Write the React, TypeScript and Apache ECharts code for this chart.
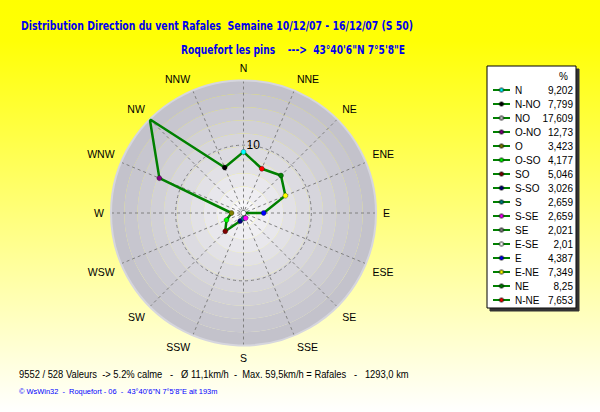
import React, { useEffect, useRef } from "react";
import * as echarts from "echarts";

// ---- data ----
const legendNames = ["N", "N-NO", "NO", "O-NO", "O", "O-SO", "SO", "S-SO", "S", "S-SE", "SE", "E-SE", "E", "E-NE", "NE", "N-NE"];
const directionLabels = ["N", "NNW", "NW", "WNW", "W", "WSW", "SW", "SSW", "S", "SSE", "SE", "ESE", "E", "ENE", "NE", "NNE"];
const percents = [9.202, 7.799, 17.609, 12.73, 3.423, 4.177, 5.046, 3.026, 2.659, 2.659, 2.021, 2.01, 4.387, 7.349, 8.25, 7.653];
const pointColors = ["#00ffff", "#000000", "#c0c0c0", "#800080", "#808000", "#00ff00", "#800000", "#000080", "#008080", "#ff00ff", "#808080", "#ffffff", "#0000ff", "#ffff00", "#008000", "#ff0000"];
const ringValue = 10;
const legendHeader = "%";

const titleText = "Distribution Direction du vent Rafales  Semaine 10/12/07 - 16/12/07 (S 50)";
const subtitleText = "Roquefort les pins    --->  43°40'6\"N 7°5'8\"E";
const statsText = "9552 / 528 Valeurs  -> 5.2% calme   -   Ø 11,1km/h  -  Max. 59,5km/h = Rafales   -   1293,0 km";
const footerText = "© WsWin32  -  Roquefort - 06  -  43°40'6\"N 7°5'8\"E alt 193m";

// ---- styles ----
const FONT = "'Liberation Sans', Arial, sans-serif";
const NARROW = "'Liberation Sans Narrow', 'Arial Narrow', 'DejaVu Sans Condensed', sans-serif";
const bandColors = ["#f7f6f9", "#efeef2", "#e8e7ec", "#e2e1e6", "#dcdbe1", "#d6d5dc", "#d1d0d7", "#cccbd3", "#c7c6cf", "#c3c2cb"];
const CENTER: [number, number] = [243.5, 213];
const RADIUS = 132.5;

const fmt = (v: number) => String(v).replace(".", ",");

export default function App() {
  const ref = useRef<HTMLDivElement>(null);
  useEffect(() => {
    if (!ref.current) return;
    const chart = echarts.init(ref.current, null, { renderer: "svg" });
    const step = 360 / directionLabels.length;
    const rMin = Math.min(...percents);
    const rMax = Math.max(...percents);

    const polygon = percents.map((v, i) => [v, i * step]);
    polygon.push([percents[0], 360]);

    const pointSeries = legendNames.map((name, i) => ({
      type: "line",
      name,
      coordinateSystem: "polar",
      polarIndex: 1,
      data: [[percents[i], i * step]],
      symbol: "circle",
      symbolSize: 5,
      showSymbol: true,
      itemStyle: { color: pointColors[i], borderColor: "rgba(0,0,0,0.4)", borderWidth: 0.8 },
      lineStyle: { color: "#008000", width: 2 },
      z: 5,
      silent: true,
    }));

    chart.setOption({
      animation: false,
      backgroundColor: {
        type: "linear", x: 0, y: 0, x2: 0, y2: 1,
        colorStops: [
          { offset: 0, color: "#ffff00" },
          { offset: 0.1, color: "#ffff06" },
          { offset: 1, color: "#ffffff" },
        ],
      },
      textStyle: { fontFamily: FONT },
      polar: [
        { center: CENTER, radius: RADIUS },
        { center: CENTER, radius: RADIUS },
      ],
      angleAxis: [
        { polarIndex: 0, type: "value", min: 0, max: 360, show: false },
        {
          polarIndex: 1, type: "value", min: 0, max: 360, interval: step,
          startAngle: 90, clockwise: false, z: 1,
          axisLine: { show: true, lineStyle: { color: "#d6d6de", width: 2 } },
          axisTick: { show: false },
          axisLabel: {
            margin: 7, fontSize: 10.5, color: "#000", fontFamily: FONT,
            formatter: (v: number) => {
              const i = Math.round(v / step);
              return i < directionLabels.length ? directionLabels[i] : "";
            },
          },
          splitLine: { show: true, lineStyle: { color: "#808080", width: 1, type: [3, 3] } },
        },
      ],
      radiusAxis: [
        {
          polarIndex: 0, type: "value", min: 0, max: 10, interval: 1, z: 0,
          axisLine: { show: false }, axisTick: { show: false }, axisLabel: { show: false },
          splitLine: { show: false },
          splitArea: { show: true, areaStyle: { color: bandColors } },
        },
        {
          polarIndex: 1, type: "value", min: rMin, max: rMax, interval: ringValue - rMin, z: 1,
          axisLine: { show: false }, axisTick: { show: false },
          axisLabel: {
            margin: -3, align: "left", verticalAlign: "middle", padding: [0, 0, 2, 0], fontSize: 12, color: "#000", fontFamily: FONT,
            formatter: (v: number) => (Math.abs(v - ringValue) < 1e-6 ? String(ringValue) : ""),
          },
          splitLine: { show: true, lineStyle: { color: ["transparent", "#808080", "transparent"], width: 1, type: [3, 3] } },
          splitArea: { show: false },
        },
      ],
      legend: {
        orient: "vertical",
        left: 487,
        top: 66,
        padding: [19, 3, 3, 5],
        itemGap: 4,
        itemWidth: 17,
        itemHeight: 5,
        backgroundColor: "#ffffff",
        borderColor: "#000000",
        borderWidth: 1,
        shadowColor: "#333333",
        shadowBlur: 0.1,
        shadowOffsetX: 3,
        shadowOffsetY: 3,
        selectedMode: false,
        data: legendNames,
        formatter: (name: string) => {
          const i = legendNames.indexOf(name);
          return `{n|${name}}{v|${fmt(percents[i])}}`;
        },
        textStyle: {
          fontSize: 10,
          rich: {
            n: { width: 28, fontSize: 10, color: "#000", fontFamily: FONT },
            v: { width: 30, align: "right", fontSize: 10, color: "#000", fontFamily: FONT },
          },
        },
      },
      graphic: [
        { type: "text", x: 21, y: 26, scaleX: 0.8, z: 100, style: { text: titleText, fontSize: 13, fontWeight: "bold", fontFamily: NARROW, fill: "#0000ee", verticalAlign: "middle" } },
        { type: "text", x: 181, y: 50, scaleX: 0.78, z: 100, style: { text: subtitleText, fontSize: 13, fontWeight: "bold", fontFamily: NARROW, fill: "#0000ee", verticalAlign: "middle" } },
        { type: "text", x: 19, y: 374, scaleX: 0.937, z: 100, style: { text: statsText, fontSize: 10, fontFamily: FONT, fill: "#000", verticalAlign: "middle" } },
        { type: "text", x: 19, y: 391, scaleX: 0.93, z: 100, style: { text: footerText, fontSize: 8, fontFamily: FONT, fill: "#0000ff", verticalAlign: "middle" } },
        { type: "text", x: 559, y: 76, z: 100, style: { text: legendHeader, fontSize: 10, fontFamily: FONT, fill: "#000", verticalAlign: "middle" } },
      ],
      series: [
        {
          type: "line",
          name: "polygon",
          coordinateSystem: "polar",
          polarIndex: 1,
          data: polygon,
          symbol: "none",
          lineStyle: { color: "#008000", width: 2.5 },
          z: 4,
          silent: true,
        },
        ...pointSeries,
      ],
    });
    return () => chart.dispose();
  }, []);
  return <div ref={ref} style={{ position: "fixed", left: 0, top: 0, width: 600, height: 412 }} />;
}
